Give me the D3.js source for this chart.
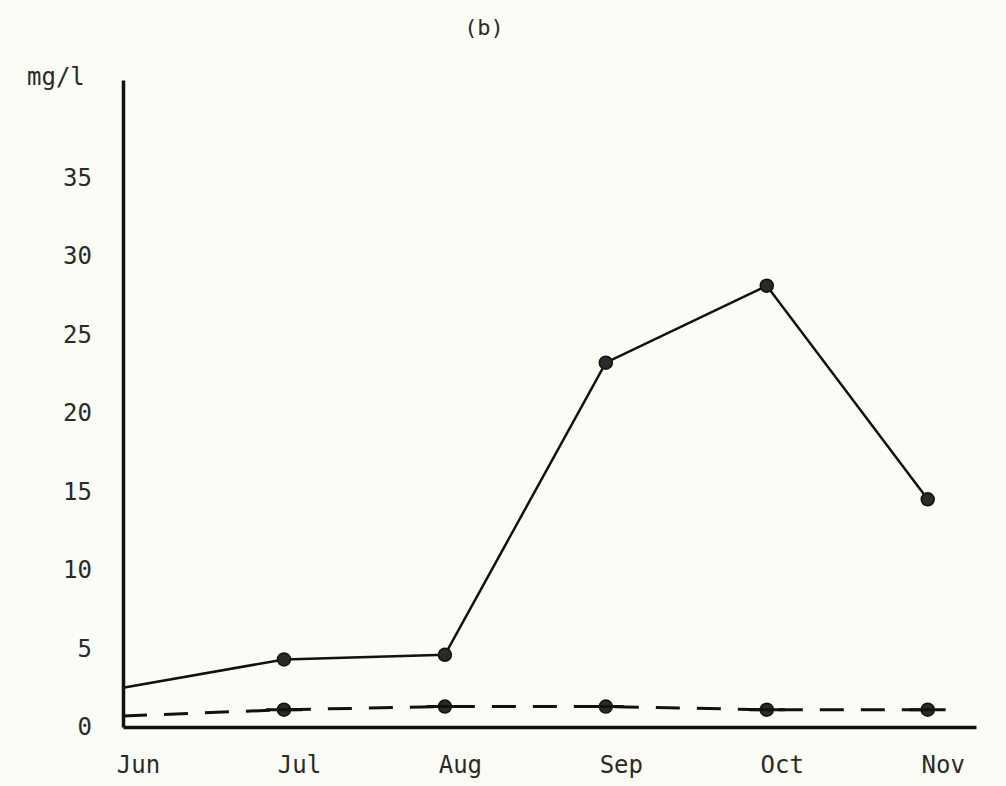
<!DOCTYPE html>
<html lang="en">
	<head>
		<meta charset="utf-8">
		<title>(b) mg/l by month</title>
		<script src="https://d3js.org/d3.v7.min.js"></script>
		<style type="text/css">
			body { margin: 0; background: #fcfcf6; }
			text { font-family: "DejaVu Sans Mono", monospace; fill: #2a2a2a; }
		</style>
	</head>
	<body>
		<script type="text/javascript">
			// ---------------- data ----------------
			var months = ["Jun", "Jul", "Aug", "Sep", "Oct", "Nov"];
			var solidValues = [2.5, 4.3, 4.6, 23.2, 28.1, 14.5];
			var dashedValues = [0.7, 1.1, 1.3, 1.3, 1.1, 1.1];
			var yTicks = [0, 5, 10, 15, 20, 25, 30, 35];

			// ---------------- setup ----------------
			var w = 1006;
			var h = 786;

			var xScale = d3.scaleLinear()
						.domain([0, 5.3])
						.range([123, 976]);
			var yScale = d3.scaleLinear()
						.domain([0, 41.2])
						.range([727, 80]);

			var svg = d3.select("body")
						.append("svg")
						.attr("width", w)
						.attr("height", h);

			// title
			svg.append("text")
				.attr("x", 484)
				.attr("y", 35)
				.attr("text-anchor", "middle")
				.style("font-size", "22px")
				.text("(b)");

			// unit label
			svg.append("text")
				.attr("x", 27)
				.attr("y", 85)
				.style("font-size", "24px")
				.text("mg/l");

			// axes
			var xAxis = d3.axisBottom(xScale)
						.tickValues(d3.range(months.length))
						.tickFormat(function(i) { return months[i]; })
						.tickSize(0)
						.tickPadding(29);
			var yAxis = d3.axisLeft(yScale)
						.tickValues(yTicks)
						.tickSize(0)
						.tickPadding(31);

			var gx = svg.append("g")
				.attr("transform", "translate(0,727)")
				.call(xAxis);
			gx.selectAll("text")
				.attr("dx", 15)
				.style("font-size", "24px");

			var gy = svg.append("g")
				.attr("transform", "translate(123,0)")
				.call(yAxis);
			gy.selectAll("text").style("font-size", "24px");

			svg.selectAll(".domain")
				.attr("stroke", "#111")
				.attr("stroke-width", 3.5);

			// lines
			var line = d3.line()
						.x(function(d, i) { return xScale(i); })
						.y(function(d) { return yScale(d); });

			svg.append("path")
				.datum(solidValues)
				.attr("d", line)
				.attr("fill", "none")
				.attr("stroke", "#111")
				.attr("stroke-width", 2.5);

			svg.append("path")
				.datum(dashedValues)
				.attr("d", line)
				.attr("fill", "none")
				.attr("stroke", "#111")
				.attr("stroke-width", 3)
				.attr("stroke-dasharray", "24,17");

			// markers (first month has none)
			[solidValues, dashedValues].forEach(function(series) {
				svg.append("g")
					.selectAll("circle")
					.data(series.slice(1))
					.enter()
					.append("circle")
					.attr("cx", function(d, i) { return xScale(i + 1); })
					.attr("cy", function(d) { return yScale(d); })
					.attr("r", 6.5)
					.attr("fill", "#2a2a2a")
					.attr("stroke", "#111")
					.attr("stroke-width", 1.5);
			});

			// short solid stubs around the dashed markers
			svg.append("g")
				.selectAll("line")
				.data(dashedValues.slice(1))
				.enter()
				.append("line")
				.attr("x1", function(d, i) { return xScale(i + 1) - 18; })
				.attr("x2", function(d, i) { return xScale(i + 1) + 18; })
				.attr("y1", function(d) { return yScale(d); })
				.attr("y2", function(d) { return yScale(d); })
				.attr("stroke", "#111")
				.attr("stroke-width", 3);
		</script>
	</body>
</html>
